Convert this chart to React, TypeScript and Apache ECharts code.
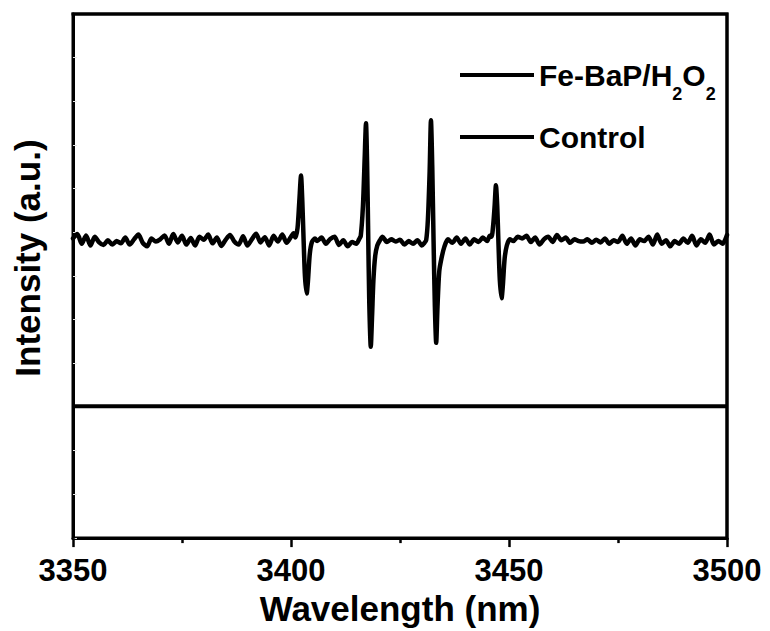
import React, { useEffect, useRef } from "react";
import * as echarts from "echarts";

const xTicks = [3350, 3400, 3450, 3500];
const yRange = [0, 12];
const seriesNames = ["Fe-BaP/H2O2", "Control"];

const wavelength = [
  3350, 3351, 3352, 3353, 3354, 3355, 3356, 3357, 3358, 3359,
  3360, 3361, 3362, 3363, 3364, 3365, 3366, 3367, 3368, 3369,
  3370, 3371, 3372, 3373, 3374, 3375, 3376, 3377, 3378, 3379,
  3380, 3381, 3382, 3383, 3384, 3385, 3386, 3387, 3388, 3389,
  3390, 3391, 3392, 3393, 3394, 3395, 3396, 3397, 3398, 3399, 3400,
  3400.6, 3401.0, 3401.5, 3401.9, 3402.3, 3402.6, 3402.9, 3403.2, 3403.6, 3403.9, 3404.3, 3404.8,
  3405.5, 3406, 3407, 3408, 3409, 3410, 3411, 3412, 3413, 3414, 3415, 3415.6,
  3416.0, 3416.5, 3416.9, 3417.2, 3417.45, 3417.7, 3417.95, 3418.3, 3418.6, 3418.9, 3419.3, 3419.8,
  3420.4, 3421, 3422, 3423, 3424, 3425, 3426, 3427, 3428, 3429, 3430, 3430.6,
  3431.0, 3431.4, 3431.8, 3432.1, 3432.4, 3432.7, 3433.0, 3433.3, 3433.6, 3434.0, 3434.5, 3435.2,
  3436, 3437, 3438, 3439, 3440, 3441, 3442, 3443, 3444, 3445, 3445.6,
  3446.0, 3446.4, 3446.7, 3447.0, 3447.3, 3447.6, 3447.9, 3448.3, 3448.6, 3449.0, 3449.5,
  3450.2, 3451, 3452, 3453, 3454, 3455, 3456, 3457, 3458, 3459,
  3460, 3461, 3462, 3463, 3464, 3465, 3466, 3467, 3468, 3469,
  3470, 3471, 3472, 3473, 3474, 3475, 3476, 3477, 3478, 3479,
  3480, 3481, 3482, 3483, 3484, 3485, 3486, 3487, 3488, 3489,
  3490, 3491, 3492, 3493, 3494, 3495, 3496, 3497, 3498, 3499, 3500,
];

const feBaPIntensity = [
  6.86, 6.96, 6.74, 6.93, 6.70, 6.90, 6.77, 6.71, 6.82, 6.72,
  6.80, 6.75, 6.88, 6.72, 6.84, 6.95, 6.76, 6.68, 6.86, 6.79,
  6.84, 6.93, 6.74, 6.96, 6.77, 6.92, 6.72, 6.87, 6.70, 6.90,
  6.83, 6.95, 6.75, 6.88, 6.69, 6.83, 6.94, 6.79, 6.72, 6.91,
  6.70, 6.84, 6.97, 6.77, 6.89, 6.70, 6.92, 6.79, 6.95, 6.76, 6.90,
  6.98, 6.88, 7.1, 7.7, 8.3, 7.7, 6.8, 6.0, 5.6, 5.9, 6.5, 6.78,
  6.86, 6.80, 6.88, 6.74, 6.85, 6.90, 6.71, 6.82, 6.68, 6.78, 6.74, 6.84,
  6.92, 7.6, 8.7, 9.5, 8.6, 7.0, 5.4, 4.38, 5.1, 5.9, 6.45, 6.7,
  6.82, 6.90, 6.78, 6.84, 6.79, 6.83, 6.72, 6.80, 6.74, 6.82, 6.70, 6.76,
  6.82, 7.3, 8.4, 9.57, 8.5, 6.8, 5.3, 4.47, 5.3, 6.1, 6.4, 6.68,
  6.84, 6.76, 6.88, 6.74, 6.86, 6.72, 6.84, 6.78, 6.88, 6.80, 6.92,
  6.9, 7.2, 7.6, 8.08, 7.6, 6.7, 5.9, 5.49, 5.8, 6.4, 6.7,
  6.84, 6.80, 6.90, 6.86, 6.92, 6.78, 6.88, 6.72, 6.84, 6.90,
  6.78, 6.94, 6.82, 6.88, 6.76, 6.84, 6.80, 6.79, 6.84, 6.76,
  6.83, 6.77, 6.86, 6.74, 6.82, 6.78, 6.92, 6.74, 6.86, 6.70,
  6.84, 6.80, 6.90, 6.72, 6.95, 6.74, 6.82, 6.68, 6.80, 6.74,
  6.86, 6.76, 6.92, 6.70, 6.84, 6.76, 6.95, 6.72, 6.80, 6.74, 6.94,
];

const controlWavelength = [3350, 3500];
const controlIntensity = [3.02, 3.02];

const FONT = '"Liberation Sans", Arial, Helvetica, sans-serif';

export default function App() {
  const ref = useRef<HTMLDivElement | null>(null);

  useEffect(() => {
    if (!ref.current) return;
    const chart = echarts.init(ref.current, null, { renderer: "svg" });

    const feData = wavelength.map((w, i) => [w, feBaPIntensity[i]]);
    const ctrlData = controlWavelength.map((w, i) => [w, controlIntensity[i]]);

    const option: any = {
      animation: false,
      backgroundColor: "#ffffff",
      grid: {
        left: 73,
        right: 43,
        top: 14,
        bottom: 88,
        containLabel: false,
        show: true,
        borderColor: "#000",
        borderWidth: 3,
      },
      legend: {
        orient: "vertical",
        left: 455,
        top: 42,
        itemWidth: 74,
        itemHeight: 4,
        itemGap: 19,
        icon: "rect",
        data: seriesNames,
        textStyle: {
          fontFamily: FONT,
          fontWeight: "bold",
          fontSize: 30,
          lineHeight: 30,
          color: "#000",
          rich: {
            s: {
              fontFamily: FONT,
              fontWeight: "bold",
              fontSize: 18,
              lineHeight: 18,
              color: "#000",
              padding: [38, 0, 0, 0],
            },
          },
        },
        formatter: (name: string) =>
          name === "Fe-BaP/H2O2" ? "Fe-BaP/H{s|2}O{s|2}" : name,
      },
      xAxis: {
        type: "value",
        min: xTicks[0],
        max: xTicks[xTicks.length - 1],
        interval: 50,
        position: "bottom",
        name: "Wavelength (nm)",
        nameLocation: "middle",
        nameGap: 42,
        nameTextStyle: {
          fontFamily: FONT,
          fontWeight: "bold",
          fontSize: 35,
          color: "#000",
        },
        axisLine: { show: true, onZero: false, lineStyle: { color: "#000", width: 3 } },
        axisTick: {
          show: true,
          inside: false,
          length: 9,
          lineStyle: { color: "#000", width: 2.5 },
        },
        minorTick: {
          show: true,
          splitNumber: 2,
          length: 5,
          lineStyle: { color: "#000", width: 2.5 },
        },
        axisLabel: {
          show: true,
          margin: 17,
          fontFamily: FONT,
          fontWeight: "bold",
          fontSize: 31,
          color: "#000",
          formatter: (v: number) => String(v),
        },
        splitLine: { show: false },
      },
      yAxis: {
        type: "value",
        min: yRange[0],
        max: yRange[1],
        interval: 1,
        position: "left",
        name: "Intensity (a.u.)",
        nameLocation: "middle",
        nameGap: 28,
        nameTextStyle: {
          fontFamily: FONT,
          fontWeight: "bold",
          fontSize: 35,
          color: "#000",
          padding: [0, 0, 0, 36],
        },
        axisLine: { show: true, onZero: false, lineStyle: { color: "#000", width: 3 } },
        axisTick: {
          show: true,
          inside: true,
          length: 4,
          lineStyle: { color: "#e4e4e4", width: 1 },
        },
        axisLabel: { show: false },
        splitLine: { show: false },
      },
      series: [
        {
          name: seriesNames[0],
          type: "line",
          data: feData,
          showSymbol: false,
          symbol: "none",
          smooth: 0.25,
          lineStyle: { color: "#000", width: 4.5, join: "round", cap: "round" },
          itemStyle: { color: "#000" },
          z: 3,
        },
        {
          name: seriesNames[1],
          type: "line",
          data: ctrlData,
          showSymbol: false,
          symbol: "none",
          lineStyle: { color: "#000", width: 4 },
          itemStyle: { color: "#000" },
          z: 2,
        },
      ],
    };

    chart.setOption(option);

    // frame top and right edges, placed through the axes' own scales
    const tl = chart.convertToPixel({ gridIndex: 0 }, [xTicks[0], yRange[1]]) as number[];
    const tr = chart.convertToPixel({ gridIndex: 0 }, [xTicks[xTicks.length - 1], yRange[1]]) as number[];
    const br = chart.convertToPixel({ gridIndex: 0 }, [xTicks[xTicks.length - 1], yRange[0]]) as number[];
    chart.setOption({
      graphic: [
        {
          type: "polyline",
          z: 100,
          silent: true,
          shape: { points: [[tl[0] - 1.5, tl[1]], [tr[0], tr[1]], [br[0], br[1] + 1.5]] },
          style: { stroke: "#000", lineWidth: 3, fill: "none" },
        },
      ],
    });

    return () => {
      chart.dispose();
    };
  }, []);

  return (
    <div
      ref={ref}
      style={{ position: "absolute", left: 0, top: 0, width: 770, height: 631 }}
    />
  );
}
